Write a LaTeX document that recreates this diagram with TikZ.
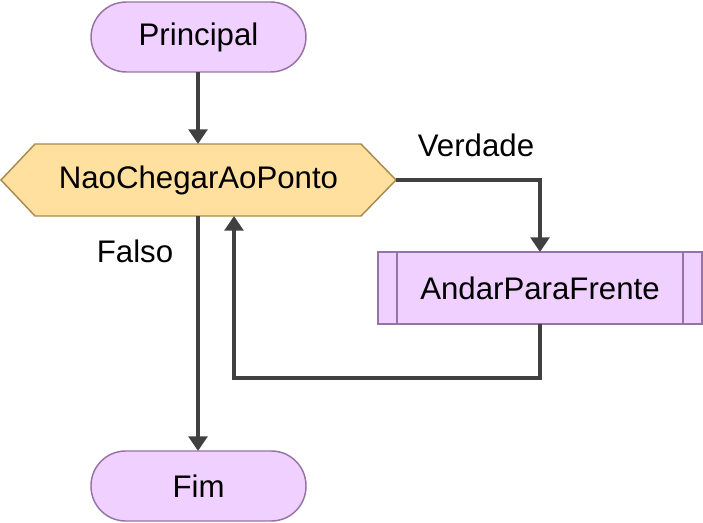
\documentclass[tikz,border=0pt]{standalone}
\usepackage{fontspec}
\setmainfont{Liberation Sans}
\usetikzlibrary{arrows.meta,shapes.misc}
\definecolor{lavfill}{HTML}{EFD0FF}
\definecolor{lavdraw}{HTML}{9673A6}
\definecolor{hexfill}{HTML}{FFE09E}
\definecolor{hexdraw}{HTML}{A88A4E}
\definecolor{conn}{HTML}{404040}
\tikzset{
  lbl/.style={font=\fontsize{23.4}{27}\selectfont, text=black},
  conline/.style={draw=conn, line width=3pt, -{Triangle[width=14pt,length=11pt]}},
  shapeline/.style={line width=1.1pt},
}
\begin{document}
\begin{tikzpicture}[x=0.75pt,y=-0.75pt]
\useasboundingbox (0,0) rectangle (703,523);
% Principal
\draw[shapeline, fill=lavfill, draw=lavdraw, rounded corners=26.5pt] (91,2) rectangle (306,72);
\node[lbl] (prin) at (198.5,37) {Principal};
\coordinate (prinb) at (198,72);
% Hexagon
\draw[shapeline, fill=hexfill, draw=hexdraw] (1,180) -- (35,144) -- (361,144) -- (396,180) -- (361,216) -- (35,216) -- cycle;
\node[lbl] (hex) at (198.5,180) {NaoChegarAoPonto};
\coordinate (hext) at (198,144);
\coordinate (hexr) at (396,180);
\coordinate (hexb) at (198,216);
\coordinate (hexb2) at (234,216);
% Predefined process
\draw[shapeline, fill=lavfill, draw=lavdraw] (378,252) rectangle (702,324);
\draw[shapeline, draw=lavdraw] (397,252) -- (397,324) (683,252) -- (683,324);
\node[lbl] (andar) at (540,288) {AndarParaFrente};
\coordinate (andt) at (540,252);
\coordinate (andb) at (540,324);
% Fim
\draw[shapeline, fill=lavfill, draw=lavdraw, rounded corners=26pt] (91,451) rectangle (306,521);
\node[lbl] (fim) at (198.5,486) {Fim};
\coordinate (fimt) at (198,451);
% connectors
\draw[conline] (prinb) -- (hext);
\draw[conline] (hexr) -| (andt);
\draw[conline] (andb) -- (540,378) -| (hexb2);
\draw[conline] (hexb) -- (fimt);
% labels
\node[lbl] (verd) at (476,145) {Verdade};
\node[lbl] (falso) at (135,251) {Falso};
\end{tikzpicture}
\end{document}
